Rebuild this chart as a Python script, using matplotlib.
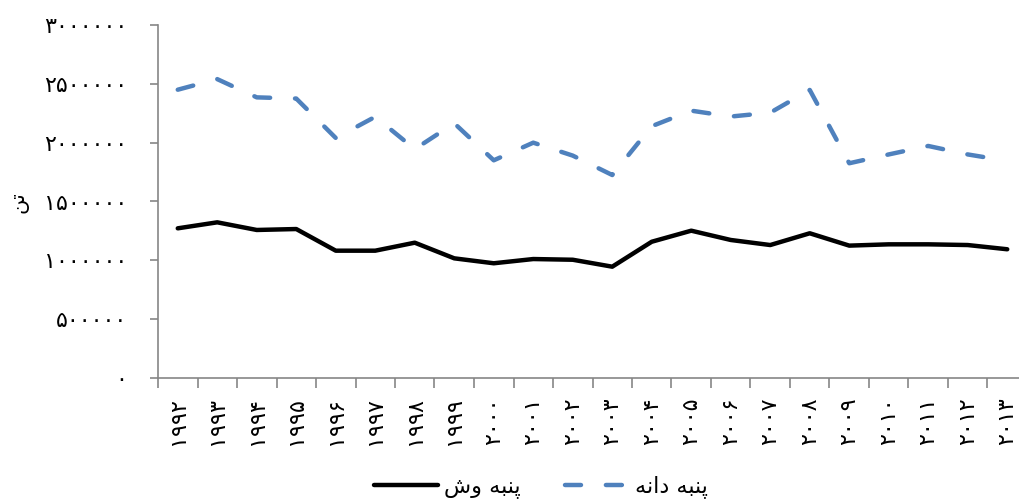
import matplotlib
matplotlib.use("Agg")
import matplotlib.pyplot as plt
from matplotlib.ticker import FuncFormatter

# years shown on the x axis
years = list(range(1992, 2014))

# cottonseed (blue dashed) and seed cotton (black solid), tonnes
seed_vals = [2450000, 2540000, 2385000, 2375000, 2040000, 2220000, 1945000, 2165000,
             1850000, 2000000, 1890000, 1725000, 2140000, 2272000, 2222000, 2255000,
             2448000, 1825000, 1900000, 1972000, 1900000, 1845000]
lint_vals = [1272000, 1323000, 1258000, 1266000, 1082000, 1082000, 1150000, 1017000,
             975000, 1011000, 1005000, 946000, 1158000, 1252000, 1173000, 1130000,
             1230000, 1125000, 1136000, 1136000, 1130000, 1094000]

# Persian labels, written in presentation forms in visual order
label_seed = "\uFEEA\uFEE7\uFE8D\uFEA9 \uFEEA\uFE92\uFEE8\uFB58"   # پنبه دانه
label_lint = "\uFEB5\uFEED \uFEEA\uFE92\uFEE8\uFB58"               # پنبه وش
ylab = "\uFEE6\uFE97"                                              # تن

FA = str.maketrans("0123456789", "۰۱۲۳۴۵۶۷۸۹")
def fa(n):
    return str(int(n)).translate(FA)

plt.rcParams["font.family"] = ["DejaVu Sans"]
GRAY = "#868686"
BLUE = "#4F81BD"

fig = plt.figure(figsize=(10.2, 4.99), dpi=100)
ax = fig.add_axes([158/1020, 121/499, 869/1020, 353/499])

x = list(range(len(years)))
ax.plot(x, lint_vals, color="black", lw=3.2, solid_joinstyle="round",
        solid_capstyle="round", label=label_lint)
ax.plot(x, seed_vals, color=BLUE, lw=3.2, dashes=(3.6, 5.6), dash_capstyle="round",
        dash_joinstyle="round", label=label_seed)

ax.set_xlim(-0.5, len(years) - 0.5)
ax.set_ylim(0, 3000000)
ax.set_yticks(range(0, 3000001, 500000))
ax.yaxis.set_major_formatter(FuncFormatter(lambda v, p: fa(v)))
ax.tick_params(axis="y", direction="out", length=6, color=GRAY, width=1.2,
               labelsize=16, pad=16)

ax.set_xticks([i - 0.5 for i in range(len(years) + 1)])
ax.set_xticklabels([])
ax.tick_params(axis="x", which="major", direction="out", length=7, color=GRAY, width=1.2)
ax.set_xticks(x, minor=True)
ax.set_xticklabels([fa(y) for y in years], minor=True, rotation=90)
ax.tick_params(axis="x", which="minor", length=0, labelsize=16, pad=14)

for s in ["top", "right"]:
    ax.spines[s].set_visible(False)
for s in ["left", "bottom"]:
    ax.spines[s].set_color(GRAY)
    ax.spines[s].set_linewidth(1.2)

fig.text(19/1020, 1 - 202/499, ylab, rotation=90, ha="center", va="center", fontsize=15)

fig.legend(loc="center", bbox_to_anchor=(0.53, 0.024), ncol=2, frameon=False,
           fontsize=16, handlelength=2.9, columnspacing=2.0, handletextpad=0.25)

fig.savefig("out.png", dpi=100)
